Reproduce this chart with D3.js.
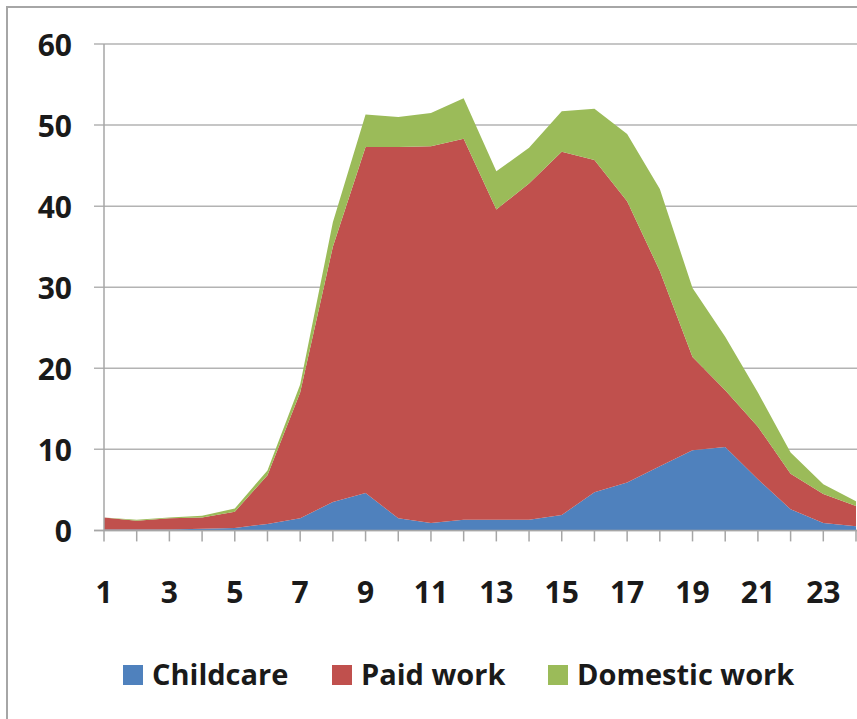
<!DOCTYPE html>
<html>
<head>
<meta charset="utf-8">
<script src="https://cdn.jsdelivr.net/npm/d3@7"></script>
<style>
  html, body { margin: 0; padding: 0; background: #fff; }
  svg { display: block; }
  text { font-family: "Open Sans", "DejaVu Sans", sans-serif; font-weight: 700; fill: #1a1a1a; }
</style>
</head>
<body>
<svg id="chart" width="857" height="719"></svg>
<script>
// ---- data ----
const hours = d3.range(1, 25);
const childcare = [0.1, 0.1, 0.1, 0.2, 0.3, 0.8, 1.5, 3.5, 4.6, 1.5, 0.9, 1.3, 1.3, 1.3, 1.9, 4.7, 5.9, 7.9, 9.9, 10.3, 6.3, 2.6, 0.9, 0.5];
const paidWork  = [1.5, 1.1, 1.4, 1.4, 2.0, 6.0, 15.5, 31.5, 42.7, 45.8, 46.5, 47.0, 38.3, 41.5, 44.8, 41.0, 34.7, 24.1, 11.5, 7.0, 6.5, 4.4, 3.6, 2.5];
const domestic  = [0.0, 0.1, 0.1, 0.2, 0.4, 0.6, 1.0, 3.0, 4.0, 3.7, 4.1, 5.0, 4.7, 4.4, 5.0, 6.3, 8.3, 10.1, 8.5, 6.6, 4.2, 2.6, 1.2, 0.6];
const seriesNames = ["Childcare", "Paid work", "Domestic work"];
const seriesColors = ["#4F81BD", "#C0504D", "#9BBB59"];
const yTicks = [0, 10, 20, 30, 40, 50, 60];
const xTickLabels = [1, 3, 5, 7, 9, 11, 13, 15, 17, 19, 21, 23];

// ---- layout ----
const svg = d3.select("#chart");
const x = d3.scaleLinear().domain([1, 24]).range([104, 856]);
const y = d3.scaleLinear().domain([0, 60]).range([530.4, 44]);

// outer frame (right/bottom edges fall outside the picture)
svg.append("rect").attr("x", 7).attr("y", 7).attr("width", 1000).attr("height", 1000)
  .attr("fill", "#fff").attr("stroke", "#a6a6a6").attr("stroke-width", 2);

// gridlines
svg.append("g").selectAll("line").data(yTicks).join("line")
  .attr("x1", 94).attr("x2", 857)
  .attr("y1", d => y(d)).attr("y2", d => y(d))
  .attr("stroke", "#b3b3b3").attr("stroke-width", 1.5);

// stacked areas
const table = hours.map((h, i) => ({ hour: h, Childcare: childcare[i], "Paid work": paidWork[i], "Domestic work": domestic[i] }));
const stacked = d3.stack().keys(seriesNames)(table);
const area = d3.area()
  .x(d => x(d.data.hour))
  .y0(d => y(d[0]))
  .y1(d => y(d[1]));
svg.append("g").selectAll("path").data(stacked).join("path")
  .attr("d", area)
  .attr("fill", (d, i) => seriesColors[i]);

// y axis line
svg.append("line").attr("x1", 104).attr("x2", 104).attr("y1", y(60)).attr("y2", y(0))
  .attr("stroke", "#a6a6a6").attr("stroke-width", 1.5);
// x axis line
svg.append("line").attr("x1", 94).attr("x2", 857).attr("y1", y(0)).attr("y2", y(0))
  .attr("stroke", "#a6a6a6").attr("stroke-width", 1.5);

// x tick marks
svg.append("g").selectAll("line").data(hours).join("line")
  .attr("x1", d => x(d)).attr("x2", d => x(d))
  .attr("y1", y(0)).attr("y2", y(0) + 11)
  .attr("stroke", "#a6a6a6").attr("stroke-width", 1.5);

// y labels
svg.append("g").selectAll("text").data(yTicks).join("text")
  .attr("x", 72).attr("y", d => y(d))
  .attr("text-anchor", "end").attr("dominant-baseline", "central")
  .attr("font-size", 30)
  .text(d => d);

// x labels
svg.append("g").selectAll("text").data(xTickLabels).join("text")
  .attr("x", d => x(d)).attr("y", 591)
  .attr("text-anchor", "middle").attr("dominant-baseline", "central")
  .attr("font-size", 30)
  .text(d => d);

// legend
const legendX = [123, 332, 548];
const lg = svg.append("g").selectAll("g").data(seriesNames).join("g")
  .attr("transform", (d, i) => `translate(${legendX[i]},0)`);
lg.append("rect").attr("x", 0).attr("y", 665).attr("width", 20).attr("height", 20)
  .attr("fill", (d, i) => seriesColors[i]);
lg.append("text").attr("x", 29).attr("y", 685)
  .attr("font-size", 29).attr("font-weight", 600)
  .text(d => d);
</script>
</body>
</html>
